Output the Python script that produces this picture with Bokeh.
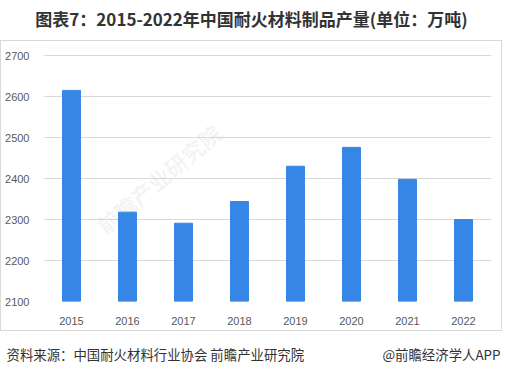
from bokeh.plotting import figure
from bokeh.layouts import column
from bokeh.models import Label, FactorRange, Range1d
from bokeh.core.properties import value
from bokeh.embed import file_html
from bokeh.resources import INLINE

years = ["2015", "2016", "2017", "2018", "2019", "2020", "2021", "2022"]
output = [2615, 2318, 2291, 2344, 2430, 2476, 2398, 2300]
y_ticks = [2100, 2200, 2300, 2400, 2500, 2600, 2700]

title_text = "图表7：2015-2022年中国耐火材料制品产量(单位：万吨)"
source_text = "资料来源：中国耐火材料行业协会 前瞻产业研究院"
brand_text = "@前瞻经济学人APP"

W = 502
CJK = value("Noto Sans CJK SC")


def text_panel(h):
    f = figure(width=W, height=h, x_range=Range1d(0, W), y_range=Range1d(h, 0),
               x_axis_type=None, y_axis_type=None, output_backend="svg",
               toolbar_location=None, min_border=0, frame_align=False)
    f.outline_line_color = None
    f.grid.visible = False
    f.background_fill_color = "white"
    f.border_fill_color = "white"
    return f


# title panel
top = text_panel(40)
top.text(x=[W / 2], y=[18], text=[title_text], text_font=CJK, text_font_style="bold",
         text_font_size="17px", text_color="#333333", text_align="center",
         text_baseline="middle")

# main chart
H = 291
p = figure(width=W, height=H, x_range=FactorRange(*years, range_padding=0),
           y_range=Range1d(2100, 2705), output_backend="svg", toolbar_location=None,
           min_border_left=42, min_border_right=12, min_border_top=12, min_border_bottom=31,
           frame_align=False, styles={"border": "1px solid #d9d9d9"})
p.background_fill_color = "white"
p.border_fill_color = "white"
p.outline_line_color = None

wm = Label(x=156, y=136, x_units="canvas", y_units="canvas", text="前瞻产业研究院",
           text_font="Noto Sans CJK SC", text_font_style="bold", text_font_size="22px",
           text_color="#9aa0b4", text_alpha=0.12, angle=0.70, text_align="center",
           text_baseline="middle", level="underlay")
p.add_layout(wm)

p.vbar(x=years, top=output, bottom=2100, width=0.32, color="#3686E6")

p.yaxis.ticker = y_ticks
p.xgrid.grid_line_color = None
p.ygrid.grid_line_color = "#d9d9d9"
p.ygrid.grid_line_width = 1
for ax in (p.xaxis, p.yaxis):
    ax.axis_line_color = None
    ax.major_tick_line_color = None
    ax.minor_tick_line_color = None
    ax.major_label_text_font = "Liberation Sans"
    ax.major_label_text_font_size = "11px"
    ax.major_label_text_color = "#595959"
p.yaxis.major_label_standoff = 8
p.xaxis.major_label_standoff = 9

# footer panel
bot = text_panel(40)
bot.text(x=[6], y=[22], text=[source_text], text_font=CJK, text_font_size="13.4px",
         text_color="#333333", text_align="left", text_baseline="middle")
bot.text(x=[500], y=[22], text=[brand_text], text_font=CJK, text_font_size="13.4px",
         text_color="#333333", text_align="right", text_baseline="middle")

layout = column(top, p, bot, spacing=0)
open("out.html", "w").write(file_html(layout, INLINE))
